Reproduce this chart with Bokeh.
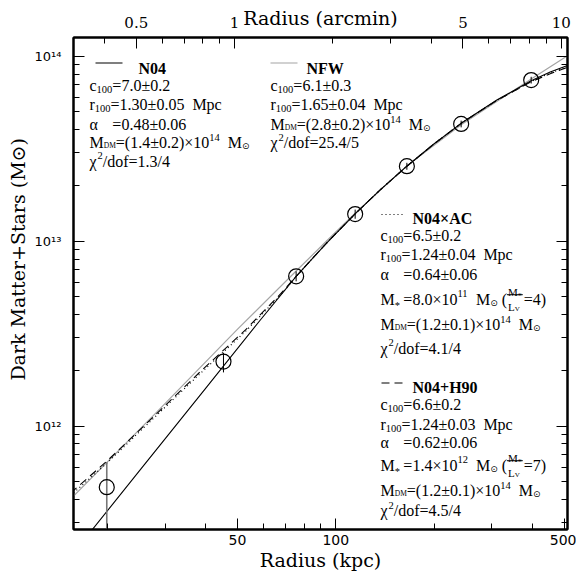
import math
from bokeh.plotting import figure
from bokeh.models import LogAxis, FixedTicker, CustomJSTickFormatter, Range1d, LogScale
from bokeh.core.properties import value
from bokeh.embed import file_html
from bokeh.resources import INLINE

# ---------------- data ----------------
radius_kpc = [19.9, 45.3, 75.6, 114.6, 165.0, 241.9, 396.3]
mass_msun = [4.67e11, 2.23e12, 6.45e12, 1.40e13, 2.54e13, 4.30e13, 7.42e13]
mass_upper = [6.40e11, 2.49e12, 6.86e12, 1.48e13, 2.65e13, 4.48e13, 7.73e13]
mass_lower = [2.0e11, 1.95e12, 6.06e12, 1.32e13, 2.43e13, 4.12e13, 7.11e13]

n04_r = [17.29, 25.18, 40.28, 58.66, 75.60, 93.85, 114.6, 136.7, 165.0, 199.1, 241.9, 311.1, 396.3, 453.1, 511.9]
n04_m = [2.53e11, 5.79e11, 1.630e12, 3.733e12, 6.447e12, 9.79e12, 1.404e13, 1.892e13, 2.540e13,
         3.337e13, 4.332e13, 5.788e13, 7.363e13, 8.199e13, 8.906e13]

nfw_r = [15.37, 28.44, 49.78, 75.60, 93.85, 114.6, 165.0, 241.9, 396.3, 511.9]
nfw_m = [4.005e11, 1.200e12, 3.310e12, 6.888e12, 1.004e13, 1.416e13, 2.550e13, 4.261e13, 7.515e13, 1.004e14]

ac_r = [15.41, 20.00, 27.08, 38.52, 52.90, 68.67, 75.60, 93.85, 114.6, 136.7, 165.0, 199.1, 241.9,
        311.1, 396.3, 453.1, 511.9]
ac_m = [4.208e11, 6.342e11, 1.062e12, 1.928e12, 3.249e12, 5.242e12, 6.447e12, 9.79e12, 1.404e13,
        1.892e13, 2.540e13, 3.337e13, 4.332e13, 5.764e13, 7.302e13, 8.097e13, 8.759e13]

h90_r = [15.41, 20.00, 27.08, 38.52, 52.90, 67.71, 75.60, 93.85, 114.6, 136.7, 165.0, 199.1, 241.9,
         311.1, 396.3, 453.1, 511.9]
h90_m = [4.332e11, 6.502e11, 1.082e12, 1.972e12, 3.310e12, 5.177e12, 6.447e12, 9.79e12, 1.404e13,
         1.892e13, 2.540e13, 3.337e13, 4.332e13, 5.764e13, 7.272e13, 8.031e13, 8.687e13]

x_ticks = [50, 100, 500]
x_minor = [20, 30, 40, 60, 70, 80, 90, 200, 300, 400]
arc_ticks = [0.5, 1, 5, 10]
arc_minor = [0.4, 0.6, 0.7, 0.8, 0.9, 2, 3, 4, 6, 7, 8, 9]
y_ticks = [1e12, 1e13, 1e14]
y_minor = [k * 10.0 ** e for e in (11, 12, 13) for k in range(2, 10)]
KPC_PER_ARCMIN = 49.0

# ---------------- geometry (figure pixels) ----------------
FL, FT, FW, FH = 73, 37, 494, 492
X_LO, X_HI = 15.74, 511.9
Y_LO, Y_HI = 2.758e11, 1.261e14
LX0, LX1 = math.log10(X_LO), math.log10(X_HI)
LY0, LY1 = math.log10(Y_LO), math.log10(Y_HI)


def dx(px):
    return 10 ** (LX0 + (px - FL) / FW * (LX1 - LX0))


def dy(py):
    return 10 ** (LY1 - (py - FT) / FH * (LY1 - LY0))


W_ = 576
H_ = 574
p = figure(width=W_, height=H_, x_axis_type="log", y_axis_type="log",
           x_range=Range1d(X_LO, X_HI), y_range=Range1d(Y_LO, Y_HI),
           output_backend="svg", toolbar_location=None,
           min_border_left=FL, min_border_top=FT,
           min_border_right=W_ - FL - FW, min_border_bottom=H_ - FT - FH)
p.xgrid.visible = False
p.ygrid.visible = False
p.outline_line_color = "black"
p.outline_line_width = 2
p.background_fill_color = "white"
p.border_fill_color = "white"

TFONT = "DejaVu Serif"


def style_axis(ax):
    ax.axis_line_width = 2
    ax.axis_line_color = "black"
    ax.major_tick_in = 11
    ax.major_tick_out = 0
    ax.minor_tick_in = 6
    ax.minor_tick_out = 0
    ax.major_tick_line_color = "black"
    ax.minor_tick_line_color = "black"
    ax.major_tick_line_width = 1
    ax.minor_tick_line_width = 1
    ax.major_label_text_color = "black"
    ax.axis_label_text_font = TFONT
    ax.axis_label_text_font_style = "normal"
    ax.axis_label_text_color = "black"


xb = p.xaxis[0]
xb.ticker = FixedTicker(ticks=x_ticks, minor_ticks=x_minor)
xb.formatter = CustomJSTickFormatter(code="return tick.toString();")
style_axis(xb)
xb.major_label_text_font = "DejaVu Sans"
xb.major_label_text_font_size = "14px"
xb.major_label_standoff = 5
xb.axis_label = "Radius (kpc)"
xb.axis_label_text_font_size = "19px"
xb.axis_label_standoff = 1

yl = p.yaxis[0]
yl.ticker = FixedTicker(ticks=y_ticks, minor_ticks=y_minor)
yl.formatter = CustomJSTickFormatter(code="""
const sup = {'0':'\u2070','1':'\u00b9','2':'\u00b2','3':'\u00b3','4':'\u2074','5':'\u2075','6':'\u2076','7':'\u2077','8':'\u2078','9':'\u2079','-':'\u207b'};
const e = Math.round(Math.log10(tick));
return '10' + String(e).split('').map(c => sup[c]).join('');
""")
style_axis(yl)
yl.major_label_text_font = "DejaVu Sans"
yl.major_label_text_font_size = "13px"
yl.major_label_standoff = 12
yl.axis_label = "\u00a0" * 8 + "Dark Matter+Stars (M\u2299)"
yl.axis_label_text_font_size = "19px"
yl.axis_label_standoff = 3

p.extra_x_ranges = {"arcmin": Range1d(X_LO / KPC_PER_ARCMIN, X_HI / KPC_PER_ARCMIN)}
p.extra_x_scales = {"arcmin": LogScale()}
xt = LogAxis(x_range_name="arcmin", ticker=FixedTicker(ticks=arc_ticks, minor_ticks=arc_minor),
             formatter=CustomJSTickFormatter(code="return tick.toString();"))
style_axis(xt)
xt.major_label_text_font = "DejaVu Serif"
xt.major_label_text_font_size = "15px"
xt.major_label_standoff = 10
xt.axis_label = "Radius (arcmin)"
xt.axis_label_text_font_size = "19px"
xt.axis_label_standoff = -15
p.add_layout(xt, "above")

yr = LogAxis(ticker=FixedTicker(ticks=y_ticks, minor_ticks=y_minor),
             formatter=CustomJSTickFormatter(code="return '';"))
style_axis(yr)
yr.major_label_text_font_size = "0px"
yr.major_label_standoff = 0
p.add_layout(yr, "right")

# ---------------- curves ----------------
p.line(nfw_r, nfw_m, line_color="#a4a4a4", line_width=1.2)
p.line(ac_r, ac_m, line_color="black", line_width=1.2, line_dash="1 3")
p.line(h90_r, h90_m, line_color="black", line_width=1.1, line_dash="8 5")
p.line(n04_r, n04_m, line_color="black", line_width=1.1)

# error bars and points
p.segment(x0=radius_kpc[:1], y0=mass_lower[:1], x1=radius_kpc[:1], y1=mass_upper[:1],
          line_color="#777777", line_width=1.6)
p.segment(x0=radius_kpc[1:], y0=mass_lower[1:], x1=radius_kpc[1:], y1=mass_upper[1:],
          line_color="black", line_width=1)
p.scatter(radius_kpc, mass_msun, marker="circle", size=15, fill_color=None,
          line_color="black", line_width=1.2)

# ---------------- legend text ----------------
SERIF = "Liberation Serif"
SUNF = "DejaVu Sans"
TW = {' ': .25, '\u00a0': .25, '(': .333, ')': .333, '*': .5, '+': .564, '.': .25, '/': .278,
      '=': .564, '\u00b1': .549, '\u00d7': .564, 'A': .722, 'C': .667, 'D': .722, 'F': .556,
      'H': .722, 'L': .611, 'M': .889, 'N': .722, 'V': .722, 'W': .944, 'c': .444, 'd': .5,
      'f': .333, 'o': .5, 'p': .5, 'r': .333, '\u03b1': .54, '\u03c7': .5, '\u2299': .838}


def tw(s, fs):
    return sum(TW.get(ch, .5) for ch in s) * fs


STY = {"n": (16, 0, SERIF), "sub": (10.5, 4, SERIF), "sup": (10.5, -5.5, SERIF),
       "subs": (7.5, 3, SERIF), "sun": (9, 3.5, SUNF), "star": (10.5, 6, SERIF)}
pieces = []
names = []
bars = []


def put(x, y, t, fs, font):
    lead = len(t) - len(t.lstrip(' '))
    x += tw(t[:lead], fs)
    t = t.lstrip(' ').replace(' ', '\u00a0')
    if t:
        pieces.append((x, y, t, fs, font))


def frac(x, yb, parts):
    num, numsub, den, densub = parts
    xs = x + 1
    nx = xs
    put(nx, yb - 7.5, num, 11, SERIF); nx += tw(num, 11)
    put(nx, yb - 7.5 + 5, numsub, 8, SERIF); nx += tw(numsub, 8)
    ddx = xs
    put(ddx, yb + 7.5, den, 11, SERIF); ddx += tw(den, 11)
    put(ddx, yb + 7.5 + 2.5, densub, 7, SERIF); ddx += tw(densub, 7)
    xe = max(nx, ddx) + 1
    bars.append((x, xe, yb - 4.5))
    return xe + 1


def row(x0, yb, segs):
    x = x0
    for t, k in segs:
        if k == "tab":
            x = x0 + t
            continue
        if k == "frac":
            x = frac(x, yb, t)
            continue
        fs, off, font = STY[k]
        put(x, yb + off, t, fs, font)
        x += tw(t, fs)
    return x


EQ = tw("c", 16) + tw("100", 10.5)


def c_row(v):
    return [("c", "n"), ("100", "sub"), ("=" + v, "n")]


def r_row(v):
    return [("r", "n"), ("100", "sub"), ("=" + v + "  Mpc", "n")]


def a_row(v):
    return [("\u03b1", "n"), (EQ, "tab"), ("=" + v, "n")]


def mdm_row(v):
    return [("M", "n"), ("DM", "subs"), ("=(" + v + ")\u00d710", "n"), ("14", "sup"),
            ("  M", "n"), ("\u2299", "sun")]


def chi_row(v):
    return [("\u03c7", "n"), ("2", "sup"), ("/dof=" + v, "n")]


def mstar_row(v, e, ml):
    return [("M", "n"), ("*", "star"), (EQ, "tab"), ("=" + v + "\u00d710", "n"), (e, "sup"),
            ("  M", "n"), ("\u2299", "sun"), (" (", "n"), (("M", "*", "L", "V"), "frac"),
            ("=" + ml + ")", "n")]


# block N04
B1 = 89
names.append((138, 67.7, "N04"))
row(B1, 85.0, c_row("7.0\u00b10.2"))
row(B1, 104.0, r_row("1.30\u00b10.05"))
row(B1, 124.0, a_row("0.48\u00b10.06"))
row(B1, 142.3, mdm_row("1.4\u00b10.2"))
row(B1, 160.7, chi_row("1.3/4"))
# block NFW
B2 = 270
names.append((306, 67.7, "NFW"))
row(B2, 85.0, c_row("6.1\u00b10.3"))
row(B2, 104.0, r_row("1.65\u00b10.04"))
row(B2, 124.0, mdm_row("2.8\u00b10.2"))
row(B2, 142.3, chi_row("25.4/5"))
# block N04xAC
B3 = 380
names.append((412, 218.3, "N04\u00d7AC"))
row(B3, 235.3, c_row("6.5\u00b10.2"))
row(B3, 254.3, r_row("1.24\u00b10.04"))
row(B3, 273.7, a_row("0.64\u00b10.06"))
row(B3, 298.7, mstar_row("8.0", "11", "4"))
row(B3, 324.3, mdm_row("1.2\u00b10.1"))
row(B3, 347.7, chi_row("4.1/4"))
# block N04+H90
names.append((412, 387.0, "N04+H90"))
row(B3, 403.7, c_row("6.6\u00b10.2"))
row(B3, 423.7, r_row("1.24\u00b10.03"))
row(B3, 442.0, a_row("0.62\u00b10.06"))
row(B3, 464.7, mstar_row("1.4", "12", "7"))
row(B3, 490.3, mdm_row("1.2\u00b10.1"))
row(B3, 510.3, chi_row("4.5/4"))

groups = {}
for (px, py, t, fs, font) in pieces:
    groups.setdefault((fs, font), []).append((px, py, t))
for (fs, font), items in groups.items():
    p.text(x=[dx(a) for a, b, c in items], y=[dy(b) for a, b, c in items],
           text=[c for a, b, c in items], text_font=value(font),
           text_font_size=value(f"{fs}px"), text_color="black",
           text_align="left", text_baseline="alphabetic")

p.text(x=[dx(a) for a, b, c in names], y=[dy(b) for a, b, c in names],
       text=[c for a, b, c in names], text_font=value(SERIF), text_font_size=value("16px"),
       text_font_style="bold", text_color="black", text_align="left", text_baseline="alphabetic")

p.segment(x0=[dx(a) for a, b, c in bars], y0=[dy(c) for a, b, c in bars],
          x1=[dx(b) for a, b, c in bars], y1=[dy(c) for a, b, c in bars],
          line_color="black", line_width=1)

# legend samples
p.line([dx(95), dx(122)], [dy(62.5), dy(62.5)], line_color="black", line_width=1.1)
p.line([dx(270), dx(297)], [dy(62.5), dy(62.5)], line_color="#a4a4a4", line_width=1.2)
p.line([dx(381), dx(404)], [dy(214), dy(214)], line_color="black", line_width=1.2, line_dash="1 3")
p.line([dx(381), dx(403)], [dy(382.5), dy(382.5)], line_color="black", line_width=1.1, line_dash="8 5")

open("out.html", "w", encoding="utf-8").write(file_html(p, INLINE))
